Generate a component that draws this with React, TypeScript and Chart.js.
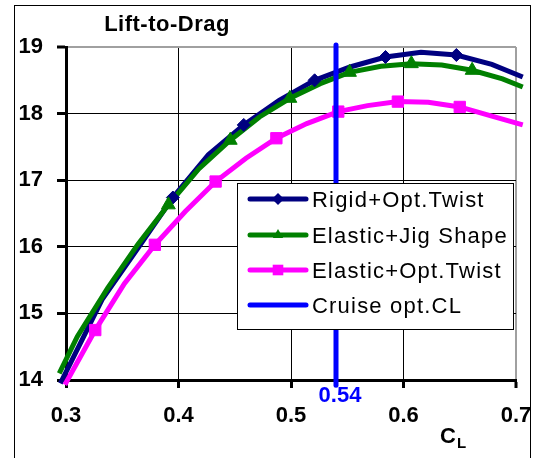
import React, { useEffect, useRef } from "react";
import { Chart, registerables } from "chart.js";

Chart.register(...registerables);

const FONT = "'Liberation Sans', Arial, Helvetica, sans-serif";

const CHART_TITLE = "Lift-to-Drag";
const X_AXIS_MAIN = "C";
const X_AXIS_SUB = "L";
const X_MIN = 0.3;
const X_MAX = 0.7;
const X_STEP = 0.1;
const Y_MIN = 14;
const Y_MAX = 19;
const Y_STEP = 1;

const SERIES_LABELS = ["Rigid+Opt.Twist", "Elastic+Jig Shape", "Elastic+Opt.Twist", "Cruise opt.CL"];
const SERIES_COLORS = ["#000080", "#008000", "#ff00ff", "#0000ff"];
const SERIES_MARKERS = ["rectRot", "triangle", "rect", "none"];

const rigidCL = [0.295, 0.3325, 0.364, 0.395, 0.4265, 0.458, 0.4895, 0.521, 0.5525, 0.584, 0.6155, 0.647, 0.6785, 0.706];
const rigidLD = [13.95, 15.22, 15.98, 16.74, 17.38, 17.83, 18.2, 18.5, 18.7, 18.85, 18.92, 18.88, 18.74, 18.55];
const rigidMarked = [0, 0, 0, 1, 0, 1, 0, 1, 0, 1, 0, 1, 0, 0];

const jigCL = [0.294, 0.31, 0.337, 0.364, 0.391, 0.418, 0.446, 0.472, 0.499, 0.526, 0.552, 0.58, 0.607, 0.634, 0.661, 0.688, 0.706];
const jigLD = [14.1, 14.65, 15.38, 16.04, 16.63, 17.17, 17.6, 17.95, 18.23, 18.45, 18.62, 18.71, 18.75, 18.73, 18.65, 18.52, 18.4];
const jigMarked = [0, 0, 0, 0, 1, 0, 1, 0, 1, 0, 1, 0, 1, 0, 1, 0, 0];

const elasticCL = [0.299, 0.326, 0.352, 0.379, 0.406, 0.433, 0.46, 0.487, 0.514, 0.542, 0.568, 0.595, 0.622, 0.65, 0.677, 0.706];
const elasticLD = [13.93, 14.75, 15.45, 16.03, 16.53, 16.98, 17.33, 17.63, 17.85, 18.03, 18.12, 18.18, 18.17, 18.1, 17.97, 17.83];
const elasticMarked = [0, 1, 0, 1, 0, 1, 0, 1, 0, 1, 0, 1, 0, 1, 0, 0];

const cruiseCL = [0.54, 0.54];
const cruiseLD = [13.92, 19.03];
const CRUISE_LABEL = "0.54";

const toPts = (xs: number[], ys: number[]) => xs.map((x, i) => ({ x, y: ys[i] }));

function drawMarker(ctx: CanvasRenderingContext2D, style: string, x: number, y: number, r: number) {
  ctx.beginPath();
  if (style === "rectRot") {
    ctx.moveTo(x - r, y);
    ctx.lineTo(x, y - r);
    ctx.lineTo(x + r, y);
    ctx.lineTo(x, y + r);
    ctx.closePath();
  } else if (style === "triangle") {
    ctx.moveTo(x, y - r);
    ctx.lineTo(x + r * 0.866, y + r * 0.5);
    ctx.lineTo(x - r * 0.866, y + r * 0.5);
    ctx.closePath();
  } else if (style === "rect") {
    const s = r * 0.7071;
    ctx.rect(x - s, y - s, 2 * s, 2 * s);
  } else {
    return;
  }
  ctx.fill();
}

const decorPlugin = {
  id: "decor",
  afterDraw(chart: any) {
    const { ctx, chartArea: a, scales } = chart;
    const xs = scales.x;
    ctx.save();
    // outer frame
    ctx.strokeStyle = "#000";
    ctx.lineWidth = 1;
    ctx.strokeRect(14.5, 5.5, 516, 480);

    // title
    ctx.fillStyle = "#000";
    ctx.font = `bold 22px ${FONT}`;
    ctx.textAlign = "center";
    ctx.textBaseline = "alphabetic";
    (ctx as any).letterSpacing = "0.5px";
    ctx.fillText(CHART_TITLE, a.left + 101, a.top - 16);

    // axis title C_L
    (ctx as any).letterSpacing = "0px";
    ctx.textAlign = "left";
    ctx.fillText(X_AXIS_MAIN, a.right - 76, a.bottom + 63);
    ctx.font = `bold 15px ${FONT}`;
    ctx.fillText(X_AXIS_SUB, a.right - 59, a.bottom + 68);

    // cruise CL label
    ctx.fillStyle = SERIES_COLORS[3];
    ctx.font = `bold 22px ${FONT}`;
    ctx.textAlign = "center";
    ctx.fillText(CRUISE_LABEL, xs.getPixelForValue(cruiseCL[0]) + 4, a.bottom + 22);

    // legend
    const bx = a.left + 171;
    const by = a.top + 136;
    const bw = 276;
    const bh = 146;
    ctx.fillStyle = "#fff";
    ctx.fillRect(bx, by, bw, bh);
    ctx.strokeStyle = "#000";
    ctx.lineWidth = 1;
    ctx.strokeRect(bx + 0.5, by + 0.5, bw, bh);
    const rows = [16, 52, 87, 122];
    SERIES_LABELS.forEach((label, i) => {
      const ry = by + rows[i];
      ctx.strokeStyle = SERIES_COLORS[i];
      ctx.lineWidth = 5;
      ctx.lineCap = "round";
      ctx.beginPath();
      ctx.moveTo(bx + 13, ry);
      ctx.lineTo(bx + 69, ry);
      ctx.stroke();
      ctx.fillStyle = SERIES_COLORS[i];
      drawMarker(ctx, SERIES_MARKERS[i], bx + 41, ry, SERIES_MARKERS[i] === "rect" ? 7.5 : 6);
      ctx.fillStyle = "#000";
      ctx.font = `22px ${FONT}`;
      ctx.textAlign = "left";
      ctx.textBaseline = "alphabetic";
      (ctx as any).letterSpacing = "1.2px";
      ctx.fillText(label, bx + 75, ry + 7.5);
    });
    ctx.restore();
  },
};

export default function App() {
  const ref = useRef<HTMLCanvasElement | null>(null);
  useEffect(() => {
    if (!ref.current) return;
    Chart.defaults.font.family = FONT;
    const lineDs = (label: string, xs: number[], ys: number[], color: string, order: number) => ({
      label,
      data: toPts(xs, ys),
      borderColor: color,
      backgroundColor: color,
      borderWidth: 5,
      pointRadius: 0,
      tension: 0,
      clip: false as any,
      order,
    });
    const markerDs = (label: string, xs: number[], ys: number[], marked: number[], color: string, style: string, r: number, order: number) => ({
      label: label + " markers",
      data: toPts(xs, ys),
      showLine: false,
      borderColor: color,
      backgroundColor: color,
      borderWidth: 1,
      pointStyle: style,
      pointRadius: marked.map((m) => (m ? r : 0)),
      clip: false as any,
      order,
    });
    const chart = new Chart(ref.current, {
      type: "line",
      data: {
        datasets: [
          {
            label: SERIES_LABELS[3],
            data: toPts(cruiseCL, cruiseLD),
            borderColor: SERIES_COLORS[3],
            backgroundColor: SERIES_COLORS[3],
            borderWidth: 5,
            borderCapStyle: "round",
            pointRadius: 0,
            clip: false as any,
            order: 0,
          },
          markerDs(SERIES_LABELS[2], elasticCL, elasticLD, elasticMarked, SERIES_COLORS[2], "rect", 8, 1),
          markerDs(SERIES_LABELS[1], jigCL, jigLD, jigMarked, SERIES_COLORS[1], "triangle", 8, 2),
          markerDs(SERIES_LABELS[0], rigidCL, rigidLD, rigidMarked, SERIES_COLORS[0], "rectRot", 6.5, 3),
          lineDs(SERIES_LABELS[2], elasticCL, elasticLD, SERIES_COLORS[2], 4),
          lineDs(SERIES_LABELS[1], jigCL, jigLD, SERIES_COLORS[1], 5),
          lineDs(SERIES_LABELS[0], rigidCL, rigidLD, SERIES_COLORS[0], 6),
        ] as any,
      },
      options: {
        responsive: false,
        animation: false,
        devicePixelRatio: 1,
        layout: { padding: { left: 0, right: 20, top: 47, bottom: 0 } },
        plugins: {
          legend: { display: false },
          title: { display: false },
          tooltip: { enabled: false },
        },
        scales: {
          x: {
            type: "linear",
            min: X_MIN,
            max: X_MAX,
            ticks: {
              stepSize: X_STEP,
              callback: (v: any) => Number(v).toFixed(1),
              font: { family: FONT, size: 22, weight: "bold" },
              color: "#000",
              padding: 15,
              maxRotation: 0,
              autoSkip: false,
            },
            grid: {
              color: (c: any) => (c.tick && Math.abs(c.tick.value - X_MAX) < 1e-6 ? "#a0a0a0" : "#000"),
              lineWidth: (c: any) => (c.tick && Math.abs(c.tick.value - X_MAX) < 1e-6 ? 2 : 1),
              tickColor: "#000",
              tickWidth: 3,
              tickLength: 8,
            },
            border: { color: "#000", width: 3 },
            afterFit: (s: any) => {
              s.height = 78;
              s.paddingLeft = 0;
              s.paddingRight = 0;
            },
          },
          y: {
            type: "linear",
            min: Y_MIN,
            max: Y_MAX,
            ticks: {
              stepSize: Y_STEP,
              callback: (v: any) => String(Math.round(Number(v))),
              font: { family: FONT, size: 22, weight: "bold" },
              color: "#000",
              padding: 14,
            },
            grid: {
              color: (c: any) => (c.tick && Math.abs(c.tick.value - Y_MAX) < 1e-6 ? "#a0a0a0" : "#000"),
              lineWidth: (c: any) => (c.tick && Math.abs(c.tick.value - Y_MAX) < 1e-6 ? 2 : 1),
              tickColor: "#000",
              tickWidth: 3,
              tickLength: 9,
            },
            border: { color: "#000", width: 3 },
            afterFit: (s: any) => {
              s.width = 66;
              s.paddingTop = 0;
              s.paddingBottom = 0;
            },
          },
        },
      } as any,
      plugins: [decorPlugin],
    });
    return () => chart.destroy();
  }, []);
  return (
    <div style={{ position: "absolute", left: 0, top: 0, width: 536, height: 458, background: "#fff" }}>
      <canvas ref={ref} width={536} height={458} />
    </div>
  );
}
